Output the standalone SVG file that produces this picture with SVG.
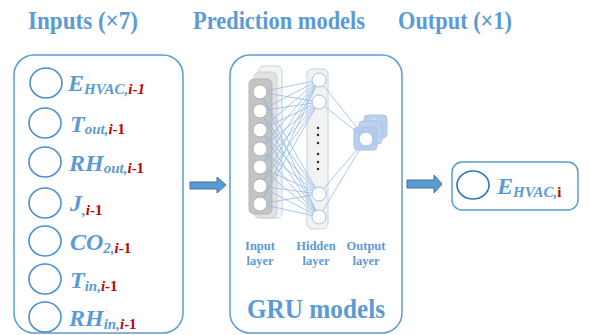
<svg xmlns="http://www.w3.org/2000/svg" width="589" height="335" viewBox="0 0 589 335">
<style>
.title{font-family:"Liberation Serif",serif;font-weight:bold;fill:#5b9bd5;font-size:25px}
.box{fill:#fff;stroke:#5b9bd5;stroke-width:1.5}
.in{fill:none;stroke:#4a8fd6;stroke-width:1.6}
.var{font-family:"Liberation Serif",serif;font-weight:bold;font-style:italic;fill:#5b9bd5;font-size:24px}
.sub{font-size:15px}
.red{fill:#c00000}
.up{font-style:normal}
.lbl{font-family:"Liberation Serif",serif;font-weight:bold;fill:#5b9bd5;font-size:12.5px;text-anchor:middle}
.conn{stroke:#8db7e6;stroke-width:0.75;fill:none}
.ic{fill:#fff;stroke:#b0b0b0;stroke-width:1}
.hc{fill:#fff;stroke:#9dc3e6;stroke-width:1}
.arrow{fill:#5b9bd5;stroke:#41719c;stroke-width:1}
</style>
<rect width="589" height="335" fill="#fff"/>
<g id="titles">
<text class="title" x="28" y="29" textLength="110" lengthAdjust="spacingAndGlyphs">Inputs (×7)</text>
<text class="title" x="193" y="29" textLength="172" lengthAdjust="spacingAndGlyphs">Prediction models</text>
<text class="title" x="398" y="29" textLength="114" lengthAdjust="spacingAndGlyphs">Output (×1)</text>
</g>
<g id="inputs">
<rect class="box" x="14" y="55" width="169" height="278" rx="20"/>
<ellipse class="in" cx="46" cy="83" rx="16" ry="15"/>
<text class="var" x="68" y="91">E<tspan class="sub" dy="3">HVAC,</tspan><tspan class="sub red">i-1</tspan></text>
<ellipse class="in" cx="45" cy="123" rx="16" ry="15"/>
<text class="var" x="70" y="132">T<tspan class="sub" dy="2">out,</tspan><tspan class="sub red">i</tspan><tspan class="sub red up">-1</tspan></text>
<ellipse class="in" cx="45" cy="162" rx="16" ry="15"/>
<text class="var" x="69" y="171">RH<tspan class="sub" dy="2">out,</tspan><tspan class="sub red">i</tspan><tspan class="sub red up">-1</tspan></text>
<ellipse class="in" cx="45" cy="203" rx="16" ry="15"/>
<text class="var" x="70" y="211">J<tspan class="sub" dy="4">,</tspan><tspan class="sub red">i</tspan><tspan class="sub red up">-1</tspan></text>
<ellipse class="in" cx="45" cy="241" rx="16" ry="15"/>
<text class="var" x="70" y="250">CO<tspan class="sub" dy="3">2,</tspan><tspan class="sub red">i</tspan><tspan class="sub red up">-1</tspan></text>
<ellipse class="in" cx="45" cy="279" rx="16" ry="15"/>
<text class="var" x="70" y="288">T<tspan class="sub" dy="3">in,</tspan><tspan class="sub red">i</tspan><tspan class="sub red up">-1</tspan></text>
<ellipse class="in" cx="45" cy="317" rx="16" ry="15"/>
<text class="var" x="69" y="326">RH<tspan class="sub" dy="3">in,</tspan><tspan class="sub red">i</tspan><tspan class="sub red up">-1</tspan></text>
</g>
<g id="gru">
<rect class="box" x="230" y="55" width="172" height="278" rx="20"/>
<g id="input-layer">
<rect x="259" y="66" width="23" height="152" rx="5" fill="#f4f4f4" stroke="#bdd7ee" stroke-width="1"/>
<circle cx="270" cy="80" r="7" fill="none" stroke="#dcdcdc"/>
<rect x="254" y="72" width="23" height="146" rx="5" fill="#e2e2e2" stroke="#d0d0d0" stroke-width="1"/>
<circle cx="265" cy="86" r="7" fill="none" stroke="#cfcfcf"/>
<rect x="249" y="79" width="23" height="135" rx="5" fill="#c4c4c4" stroke="#b5b5b5" stroke-width="1"/>
</g>
<rect x="307" y="69" width="21" height="160" rx="5" fill="#f2f2f2" stroke="#bdd7ee" stroke-width="1"/>
<g id="connectors">
<path class="conn" d="M260 92L319 80M260 92L319 102M260 92L319 194M260 92L319 217
M260 111L319 80M260 111L319 102M260 111L319 194M260 111L319 217
M260 130L319 80M260 130L319 102M260 130L319 194M260 130L319 217
M260 149L319 80M260 149L319 102M260 149L319 194M260 149L319 217
M260 167L319 80M260 167L319 102M260 167L319 194M260 167L319 217
M260 186L319 80M260 186L319 102M260 186L319 194M260 186L319 217
M260 204L319 80M260 204L319 102M260 204L319 194M260 204L319 217
M319 80L366 139M319 102L366 139M319 194L366 139M319 217L366 139"/>
</g>
<g id="input-nodes">
<circle class="ic" cx="260" cy="92" r="7"/>
<circle class="ic" cx="260" cy="111" r="7"/>
<circle class="ic" cx="260" cy="130" r="7"/>
<circle class="ic" cx="260" cy="149" r="7"/>
<circle class="ic" cx="260" cy="167" r="7"/>
<circle class="ic" cx="260" cy="186" r="7"/>
<circle class="ic" cx="260" cy="204" r="7"/>
</g>
<g id="hidden-nodes">
<circle class="hc" cx="319" cy="80" r="7"/>
<circle class="hc" cx="319" cy="102" r="7"/>
<circle class="hc" cx="319" cy="194" r="7"/>
<circle class="hc" cx="319" cy="217" r="7"/>
<g fill="#222">
<circle cx="318" cy="128" r="1.2"/><circle cx="318" cy="135" r="1.2"/><circle cx="318" cy="143" r="1.2"/>
<circle cx="318" cy="154" r="1.2"/><circle cx="318" cy="162" r="1.2"/><circle cx="318" cy="169" r="1.2"/>
</g>
</g>
<g id="output-node">
<rect x="364" y="115" width="23" height="23" rx="4" fill="#bcd0ee" stroke="#a9c2e6"/>
<circle cx="374" cy="125" r="6" fill="none" stroke="#dde7f5"/>
<rect x="359" y="121" width="23" height="23" rx="4" fill="#bcd0ee" fill-opacity="0.9" stroke="#a9c2e6"/>
<rect x="354" y="127" width="23" height="23" rx="4" fill="#b3caec" fill-opacity="0.9" stroke="#a9c2e6"/>
<circle cx="366" cy="139" r="7" fill="#fff" stroke="#9dc3e6"/>
</g>
<text class="lbl" x="260" y="250">Input</text>
<text class="lbl" x="260" y="265">layer</text>
<text class="lbl" x="316" y="250">Hidden</text>
<text class="lbl" x="316" y="265">layer</text>
<text class="lbl" x="366" y="250">Output</text>
<text class="lbl" x="366" y="265">layer</text>
<text class="title" x="247" y="318" textLength="138" lengthAdjust="spacingAndGlyphs" style="font-size:28px">GRU models</text>
</g>
<g id="arrows">
<path class="arrow" d="M190 182H217V177L226 185L217 193V189H190Z"/>
<path class="arrow" d="M407 180H434V175L442 184L434 193V188H407Z"/>
</g>
<g id="output">
<rect class="box" x="452" y="162" width="126" height="48" rx="10"/>
<ellipse cx="473" cy="185" rx="16" ry="14" fill="none" stroke="#2e75b6" stroke-width="1.6"/>
<text class="var" x="497" y="194">E<tspan class="sub" dy="3">HVAC,</tspan><tspan class="sub red up">i</tspan></text>
</g>
</svg>
